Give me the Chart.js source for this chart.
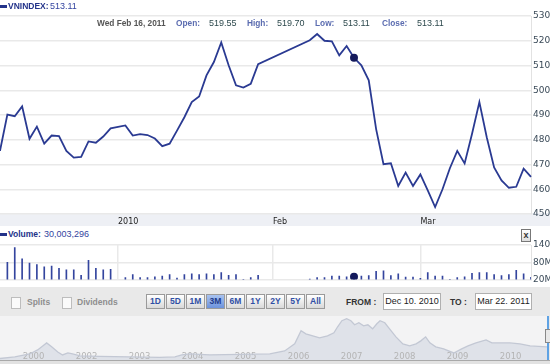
<!DOCTYPE html>
<html>
<head>
<meta charset="utf-8">
<script src="https://cdn.jsdelivr.net/npm/chart.js@4.4.1/dist/chart.umd.min.js"></script>
<style>
body { margin: 0; width: 550px; height: 364px; overflow: hidden; background: #fff; position: relative; font-family: "Liberation Sans", Arial, sans-serif; }
.a { position: absolute; white-space: nowrap; }
.lbl { font-weight: bold; font-size: 8.3px; color: #5b6cb0; line-height: 10px; }
.num { font-size: 9px; color: #2e4a4e; line-height: 10px; }
.panel { position: absolute; left: 0; top: 287px; width: 550px; height: 77px; background: #e9e9e9; }
.btn { position: absolute; top: 294px; width: 19px; height: 15px; box-sizing: border-box; border: 1px solid #9a9a9a; background: linear-gradient(#ffffff, #d9d9d9); font: bold 8.5px "Liberation Sans", Arial, sans-serif; color: #2f4fa5; text-align: center; line-height: 13px; }
.btn.sel { background: linear-gradient(#a9c3f0, #6d93dc); color: #1f3c8c; }
.chk { position: absolute; top: 297px; width: 10px; height: 12px; box-sizing: border-box; border: 1px solid #bdbdbd; background: #fafafa; }
.grey { font: bold 8.5px "Liberation Sans", Arial, sans-serif; color: #8e8e8e; top: 297px; line-height: 10px; }
.dark { font: bold 8.5px "Liberation Sans", Arial, sans-serif; color: #333; top: 297px; line-height: 10px; }
.inp { position: absolute; top: 293px; height: 17px; box-sizing: border-box; border: 1px solid #b0b0b0; background: #fff; font-size: 9px; color: #222; text-align: center; line-height: 15px; }
canvas { position: absolute; left: 0; }
</style>
</head>
<body>

<div class="a" style="left:0;top:213px;width:550px;height:13px;background:#eef0f5"></div>
<canvas id="price" width="580" height="227" style="top:0"></canvas>

<div class="a" style="left:0;top:5px;width:7px;height:3px;background:#23338a"></div>
<div class="a" style="left:8px;top:1px;font-weight:bold;font-size:8.5px;color:#23338a;line-height:10px">VNINDEX:</div>
<div class="a" style="left:50px;top:1px;font-size:9px;color:#3344a0;line-height:10px">513.11</div>

<div class="a" style="left:97px;top:18px;font-weight:bold;font-size:8.3px;color:#555;line-height:10px">Wed Feb 16, 2011</div>
<div class="a lbl" style="left:176px;top:18px">Open:</div>
<div class="a num" style="left:209px;top:18px">519.55</div>
<div class="a lbl" style="left:247px;top:18px">High:</div>
<div class="a num" style="left:277px;top:18px">519.70</div>
<div class="a lbl" style="left:315px;top:18px">Low:</div>
<div class="a num" style="left:343px;top:18px">513.11</div>
<div class="a lbl" style="left:382px;top:18px">Close:</div>
<div class="a num" style="left:417px;top:18px">513.11</div>

<div class="a" style="left:0;top:233px;width:7px;height:3px;background:#23338a"></div>
<div class="a" style="left:8px;top:229px;font-weight:bold;font-size:8.5px;color:#23338a;line-height:10px">Volume:</div>
<div class="a" style="left:44px;top:229px;font-size:9px;color:#3344a0;line-height:10px">30,003,296</div>
<div class="a" style="left:521px;top:229px;width:10px;height:13px;box-sizing:border-box;border:1px solid #777;background:linear-gradient(#fff,#ddd);font:bold 9px 'Liberation Sans',Arial;color:#333;text-align:center;line-height:10px">x</div>

<canvas id="volume" width="580" height="52" style="top:235px"></canvas>

<div class="panel"></div>
<div class="chk" style="left:11px"></div>
<div class="a grey" style="left:27px">Splits</div>
<div class="chk" style="left:62px"></div>
<div class="a grey" style="left:77px">Dividends</div>

<div class="btn" style="left:146px">1D</div>
<div class="btn" style="left:166px">5D</div>
<div class="btn" style="left:186px">1M</div>
<div class="btn sel" style="left:206px">3M</div>
<div class="btn" style="left:226px">6M</div>
<div class="btn" style="left:246px">1Y</div>
<div class="btn" style="left:266px">2Y</div>
<div class="btn" style="left:286px">5Y</div>
<div class="btn" style="left:306px">All</div>

<div class="a dark" style="left:346px">FROM :</div>
<div class="inp" style="left:383px;width:58px">Dec 10. 2010</div>
<div class="a dark" style="left:450px">TO :</div>
<div class="inp" style="left:475px;width:57px">Mar 22. 2011</div>

<div class="a" style="left:0;top:316px;width:547px;height:44px;background:#f3f3f4"></div>
<canvas id="nav" width="547" height="44" style="top:316px"></canvas>
<div class="a" style="left:0;top:360px;width:550px;height:1px;background:#a9a9a9"></div>
<div class="a" style="left:0;top:361px;width:550px;height:3px;background:#e2e2e2"></div>
<div class="a" style="left:547px;top:316px;width:2px;height:44px;background:#5ea2e4"></div>
<div class="a" style="left:545px;top:329px;width:6px;height:14px;box-sizing:border-box;border:1px solid #888;background:#e8e8e8"></div>

<script>
// trading days shown on the main chart
const days = [
    '10 Dec', '13 Dec', '14 Dec', '15 Dec', '16 Dec', '17 Dec', '20 Dec', '21 Dec', '22 Dec', '23 Dec', '24 Dec',
    '27 Dec', '28 Dec', '29 Dec', '30 Dec', '31 Dec',
    '3 Jan', '4 Jan', '5 Jan', '6 Jan', '7 Jan', '10 Jan', '11 Jan', '12 Jan', '13 Jan', '14 Jan', '17 Jan',
    '18 Jan', '19 Jan', '20 Jan', '21 Jan', '24 Jan', '25 Jan', '26 Jan', '27 Jan', '28 Jan', '31 Jan',
    '1 Feb', '2 Feb', '3 Feb', '4 Feb', '7 Feb', '8 Feb', '9 Feb', '10 Feb', '11 Feb', '14 Feb', '15 Feb',
    '16 Feb', '17 Feb', '18 Feb', '21 Feb', '22 Feb', '23 Feb', '24 Feb', '25 Feb', '28 Feb',
    '1 Mar', '2 Mar', '3 Mar', '4 Mar', '7 Mar', '8 Mar', '9 Mar', '10 Mar', '11 Mar', '14 Mar', '15 Mar',
    '16 Mar', '17 Mar', '18 Mar', '21 Mar', '22 Mar'
];

const closes = [
    475.5, 490.2, 489.5, 493.5, 480.4, 485.3, 478.4, 481.7, 481.5, 475.5, 472.8,
    473.1, 479.3, 478.8, 481.3, 484.6,
    null, 485.8, 481.7, 482.3, 481.9, 480.5, 477.4, 478.4, 483.7, 489.1, 495.2,
    497.5, 506.0, 511.4, 519.3, 510.1, 502.0, 501.1, 502.6, 510.5, null,
    null, null, null, null, null, 520.2, 522.7, 520.0, 519.8, 514.1, 517.9,
    513.11, 510.1, 504.0, 484.3, 470.1, 470.5, 461.3, 466.7, 461.3,
    466.0, 459.5, 452.8, 460.0, 468.5, 475.5, 470.4, 482.3, 495.2, 481.0, 468.8,
    463.6, 460.6, 461.0, 468.3, 465.0
];

// volume in millions
const volumes = [
    null, 80, 131, 92, 77, 72, 64, 67, 59, 54, 54,
    35, 87, 59, 54, 56,
    null, 27, 37, 27, 27, 30, 32, 37, 25, 37, 40,
    37, 40, 37, 44, 35, 37, 21, 27, 35, null,
    null, null, null, null, null, 22, 27, 27, 32, 32, 30,
    30.0, 32, 34, 49, 50, 34, 40, 29, 29,
    24, 44, 32, 32, 21, 27, 30, 42, 44, 44, 37,
    34, 37, 52, 40, 28
];

const markDay = '16 Feb';
const tickDays = ['3 Jan', '1 Feb', '1 Mar'];
const tickText = ['2010', 'Feb', 'Mar'];

// navigator (long history) series
const navPos = [
    1999.57, 1999.85, 2000.13, 2000.28, 2000.40, 2000.45, 2000.55, 2000.66, 2000.75, 2000.85,
    2000.94, 2001.08, 2001.45, 2002.02, 2002.58, 2002.87, 2003.00, 2003.15, 2003.53, 2004.09,
    2004.66, 2004.94, 2005.13, 2005.25, 2005.34, 2005.47, 2005.60, 2005.75, 2005.87, 2005.94,
    2006.02, 2006.11, 2006.19, 2006.26, 2006.34, 2006.43, 2006.51, 2006.60, 2006.68, 2006.74,
    2006.83, 2006.92, 2007.04, 2007.17, 2007.30, 2007.42, 2007.51, 2007.60, 2007.68, 2007.79,
    2007.94, 2008.13, 2008.28, 2008.40, 2008.55, 2008.74, 2008.85, 2009.00, 2009.19, 2009.38,
    2009.57, 2009.89
];
const navVals = [
    45, 91, 181, 302, 453, 514, 393, 242, 151, 211,
    181, 121, 106, 91, 76, 91, 151, 181, 151, 166,
    181, 272, 483, 876, 785, 725, 664, 725, 815, 997,
    1178, 1238, 1178, 1057, 1117, 1027, 1057, 936, 1087, 1178,
    1117, 936, 695, 483, 423, 483, 574, 695, 513, 393,
    332, 211, 332, 423, 513, 604, 513, 513, 513, 483,
    423, 393
];
const navTicks = [2000, 2001, 2002, 2003, 2004, 2005, 2006, 2007, 2008, 2009];
const navTickText = ['2000', '2002', '2003', '2004', '2005', '2006', '2007', '2008', '2009', '2010'];

const gridCol = '#e9e9e9';
const markIdx = days.indexOf(markDay);

function dayGrid(ctx) {
    return tickDays.includes(days[ctx.index]) ? gridCol : 'rgba(0,0,0,0)';
}

let ct1 = document.getElementById('price').getContext('2d');
let priceChart = new Chart(ct1, {
    type: 'line',
    data: {
        labels: days,
        datasets: [{
            data: closes,
            borderColor: '#2a3a92',
            borderWidth: 1.8,
            spanGaps: true,
            tension: 0,
            pointRadius: ctx => ctx.dataIndex === markIdx ? 4 : 0,
            pointBackgroundColor: '#141a5c',
            pointBorderWidth: 0
        }]
    },
    options: {
        responsive: false,
        animation: false,
        layout: { padding: { top: 16, left: 0, right: 0, bottom: 0 } },
        plugins: { legend: { display: false }, tooltip: { enabled: false } },
        scales: {
            x: {
                offset: false,
                border: { display: false },
                grid: { color: dayGrid, lineWidth: 1.5, drawTicks: false },
                ticks: {
                    autoSkip: false,
                    maxRotation: 0,
                    align: 'start',
                    padding: 3,
                    color: '#222',
                    font: { family: 'DejaVu Sans', size: 8 },
                    callback: (v, i) => {
                        const k = tickDays.indexOf(days[i]);
                        return k < 0 ? null : tickText[k];
                    }
                },
                afterFit: s => { s.height = 13; }
            },
            y: {
                position: 'right',
                min: 450,
                max: 530,
                border: { display: true, color: '#e2e2e2' },
                grid: { color: gridCol, lineWidth: 1.5, drawTicks: false },
                ticks: { stepSize: 10, padding: 2, color: '#3a4a58', font: { family: 'DejaVu Sans', size: 9 } },
                afterFit: s => { s.width = 49; }
            }
        }
    }
});

let ct2 = document.getElementById('volume').getContext('2d');
let volChart = new Chart(ct2, {
    type: 'bar',
    data: {
        labels: days,
        datasets: [
            {
                type: 'line',
                data: volumes,
                showLine: false,
                pointRadius: ctx => ctx.dataIndex === markIdx ? 4 : 0,
                pointBackgroundColor: '#141a5c',
                pointBorderWidth: 0
            },
            {
                data: volumes,
                backgroundColor: '#34459e',
                barThickness: 1
            }
        ]
    },
    options: {
        responsive: false,
        animation: false,
        layout: { padding: { top: 10, left: 0, right: 0, bottom: 3 } },
        plugins: { legend: { display: false }, tooltip: { enabled: false } },
        scales: {
            x: {
                offset: false,
                border: { display: false },
                grid: { color: dayGrid, lineWidth: 1.5, drawTicks: false, offset: false },
                ticks: { display: false, autoSkip: false },
                afterFit: s => { s.height = 0; }
            },
            y: {
                position: 'right',
                min: 20,
                max: 140,
                border: { display: true, color: '#e2e2e2' },
                grid: { color: gridCol, lineWidth: 1.5, drawTicks: false },
                ticks: { stepSize: 60, padding: 2, color: '#3a4a58', font: { family: 'DejaVu Sans', size: 9 }, callback: v => v + 'M' },
                afterFit: s => { s.width = 49; }
            }
        }
    }
});

let ct3 = document.getElementById('nav').getContext('2d');
let navChart = new Chart(ct3, {
    type: 'line',
    data: {
        datasets: [{
            data: navPos.map((p, i) => ({ x: p, y: navVals[i] })),
            borderColor: '#c3c8d4',
            borderWidth: 1.3,
            backgroundColor: '#dfe2e9',
            fill: 'origin',
            pointRadius: 0,
            tension: 0
        }]
    },
    options: {
        responsive: false,
        animation: false,
        layout: { padding: 0 },
        plugins: {
            legend: { display: false },
            tooltip: { enabled: false },
            // paint the area first so the year labels sit on top of it
            filler: { drawTime: 'beforeDraw' }
        },
        scales: {
            x: {
                type: 'linear',
                z: 1,
                min: 1999.57,
                max: 2009.89,
                border: { display: false },
                grid: { display: false, drawTicks: false },
                afterBuildTicks: s => { s.ticks = navTicks.map(v => ({ value: v })); },
                ticks: {
                    // mirror keeps the labels inside the plot, over the area
                    mirror: true,
                    align: 'start',
                    maxRotation: 0,
                    autoSkip: false,
                    padding: -2,
                    color: '#b4b4b4',
                    font: { family: 'DejaVu Sans', size: 8.5 },
                    callback: (v, i) => navTickText[i]
                },
                afterFit: s => { s.height = 0; }
            },
            y: { display: false, min: 0, max: 1320 }
        }
    }
});
</script>
</body>
</html>
